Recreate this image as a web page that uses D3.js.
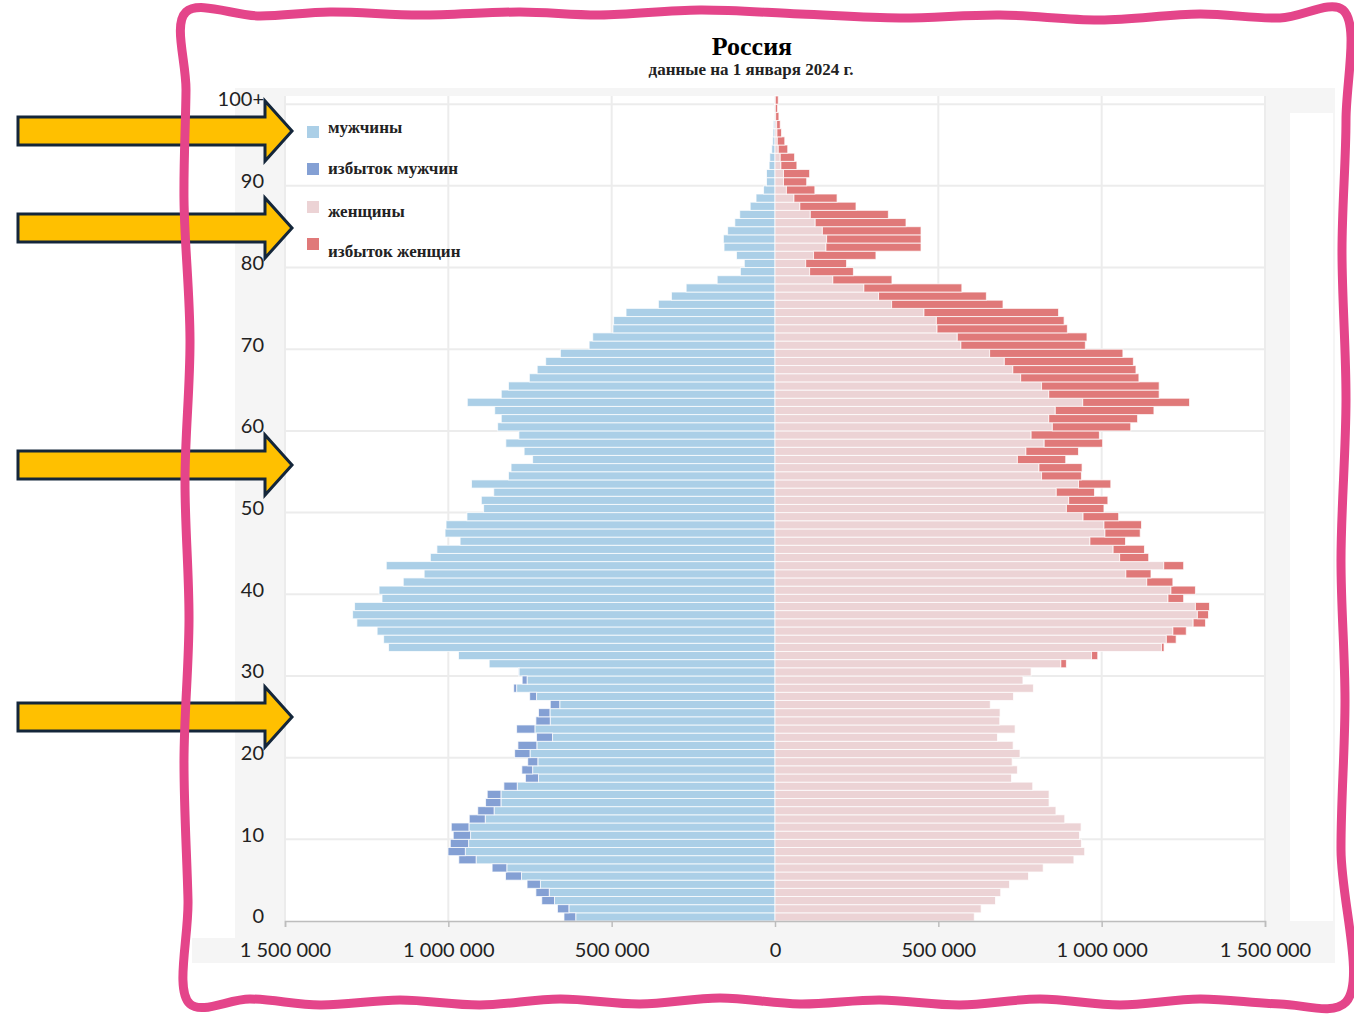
<!DOCTYPE html>
<html><head><meta charset="utf-8">
<script src="https://cdn.jsdelivr.net/npm/d3@7"></script>
<style>html,body{margin:0;padding:0;background:#fff;}svg{display:block;}</style>
</head><body>
<svg id="chart" width="1354" height="1019"></svg>
<script>
// ---- data (thousands of persons), ages 0..100+ ----
const ages = d3.range(0, 101);
const males = [646,666,714,732,759,825,866,968,1001,994,
  985,991,936,910,886,881,830,764,775,757,
  797,787,730,791,732,724,688,751,800,774,
  785,875,969,1183,1198,1218,1280,1293,1287,1203,
  1212,1138,1074,1190,1055,1035,964,1010,1007,943,
  892,899,861,929,816,808,742,768,824,784,
  849,838,858,942,838,816,752,728,702,657,
  569,558,496,494,456,357,317,272,177,106,
  94,118,156,158,145,123,108,76,58,35,
  26,26,18,16,10,7,6,5,2,1,1];
const females = [610,631,675,691,718,776,821,915,948,938,
  932,937,887,860,839,839,789,724,742,726,
  750,729,681,735,688,689,659,730,791,759,
  784,892,988,1191,1228,1259,1318,1327,1330,1251,
  1287,1218,1151,1251,1144,1131,1073,1118,1122,1052,
  1007,1019,978,1028,938,940,890,929,1003,993,
  1089,1110,1160,1269,1176,1176,1114,1105,1097,1065,
  950,955,895,885,868,698,647,572,358,240,
  219,309,447,447,447,401,347,248,190,122,
  97,106,67,60,39,30,20,16,12,8,10];
const xTicks = [-1500000,-1000000,-500000,0,500000,1000000,1500000];
const ageTicks = [0,10,20,30,40,50,60,70,80,90,100];
const ageTickLabels = ["0","10","20","30","40","50","60","70","80","90","100+"];
const legendLabels = ["мужчины","избыток мужчин","женщины","избыток женщин"];
const title = "Россия";
const subtitle = "данные на 1 января 2024 г.";
const arrowCenters = [131, 228, 465, 717];

const colors = {male:"#abcfe7", maleEx:"#84a0d4", female:"#ecd3d5", femaleEx:"#e07979"};

const svg = d3.select("#chart");

// panels
svg.append("rect").attr("x",235).attr("y",88).attr("width",1100).attr("height",875).attr("fill","#f5f5f5");
svg.append("rect").attr("x",192).attr("y",938).attr("width",43).attr("height",25).attr("fill","#f5f5f5");
svg.append("rect").attr("x",285).attr("y",96).attr("width",980).attr("height",825).attr("fill","#fff");
svg.append("rect").attr("x",1290).attr("y",113).attr("width",43).attr("height",808).attr("fill","#fff");

const x = d3.scaleLinear().domain([-1500000,1500000]).range([285,1265]);
const y = d3.scaleBand().domain(ages.slice().reverse()).range([96,921]).padding(0);

// gridlines
const g = svg.append("g");
g.selectAll("line.v").data(xTicks).join("line")
  .attr("x1",d=>x(d)).attr("x2",d=>x(d)).attr("y1",96).attr("y2",921)
  .attr("stroke","#ececec").attr("stroke-width",2);
g.selectAll("line.h").data(ageTicks.filter(a=>a>0)).join("line")
  .attr("x1",285).attr("x2",1265)
  .attr("y1",d=>y(d)+y.bandwidth()).attr("y2",d=>y(d)+y.bandwidth())
  .attr("stroke","#ececec").attr("stroke-width",2);

// bars
const rows = ages.map((a,i)=>({age:a, m:males[i]*1000, f:females[i]*1000}));
const bars = svg.append("g").attr("stroke","#fff").attr("stroke-opacity",0.75).attr("stroke-width",1);
bars.selectAll("rect.mb").data(rows).join("rect")
  .attr("x",d=>x(-Math.min(d.m,d.f))).attr("width",d=>x(0)-x(-Math.min(d.m,d.f)))
  .attr("y",d=>y(d.age)).attr("height",y.bandwidth()).attr("fill",colors.male);
bars.selectAll("rect.me").data(rows.filter(d=>d.m>d.f)).join("rect")
  .attr("x",d=>x(-d.m)).attr("width",d=>x(-d.f)-x(-d.m))
  .attr("y",d=>y(d.age)).attr("height",y.bandwidth()).attr("fill",colors.maleEx);
bars.selectAll("rect.fb").data(rows).join("rect")
  .attr("x",x(0)).attr("width",d=>x(Math.min(d.m,d.f))-x(0))
  .attr("y",d=>y(d.age)).attr("height",y.bandwidth()).attr("fill",colors.female);
bars.selectAll("rect.fe").data(rows.filter(d=>d.f>d.m)).join("rect")
  .attr("x",d=>x(d.m)).attr("width",d=>x(d.f)-x(d.m))
  .attr("y",d=>y(d.age)).attr("height",y.bandwidth()).attr("fill",colors.femaleEx);

// x axis
const loc = d3.formatLocale({decimal:",", thousands:"\u00a0", grouping:[3], currency:["",""]});
const fmt = loc.format(",d");
const xAxis = svg.append("g").attr("transform","translate(0,921)")
  .call(d3.axisBottom(x).tickValues(xTicks).tickSize(6).tickPadding(16).tickFormat(d=>fmt(Math.abs(d))));
xAxis.select(".domain").attr("stroke","#bdbdbd").attr("stroke-width",1.5);
xAxis.selectAll(".tick line").attr("stroke","#bdbdbd").attr("stroke-width",1.5);
xAxis.selectAll(".tick text").attr("font-family","Lato, sans-serif").attr("font-size",20).attr("fill","#222");

// y labels
const yAxis = svg.append("g").attr("transform","translate(285,0)")
  .call(d3.axisLeft(y).tickValues(ageTicks).tickSize(0).tickPadding(21)
    .tickFormat(d=>ageTickLabels[ageTicks.indexOf(d)]));
yAxis.select(".domain").remove();
yAxis.selectAll(".tick text").attr("font-family","Lato, sans-serif").attr("font-size",20).attr("fill","#222");

// titles
svg.append("text").attr("x",752).attr("y",55).attr("text-anchor","middle")
  .attr("font-family","'Liberation Serif', serif").attr("font-weight","bold").attr("font-size",26).text(title);
svg.append("text").attr("x",751).attr("y",75).attr("text-anchor","middle")
  .attr("font-family","'Liberation Serif', serif").attr("font-weight","bold").attr("font-size",17).attr("fill","#222").text(subtitle);

// legend
const legColors = [colors.male, colors.maleEx, colors.female, colors.femaleEx];
const legSq = [126,163,201,238];
const legTx = [133,174,217,257];
const leg = svg.append("g");
legendLabels.forEach((t,i)=>{
  leg.append("rect").attr("x",307).attr("y",legSq[i]).attr("width",12).attr("height",12).attr("fill",legColors[i]);
  leg.append("text").attr("x",328).attr("y",legTx[i]).attr("font-family","'Liberation Serif', serif")
    .attr("font-weight","bold").attr("font-size",17).attr("fill","#222").text(t);
});

// arrows
arrowCenters.forEach(c=>{
  const p = [[18,c-14],[265,c-14],[265,c-30],[292,c],[265,c+30],[265,c+14],[18,c+14]];
  svg.append("path").attr("d","M"+p.map(q=>q.join(",")).join("L")+"Z")
    .attr("fill","#ffc000").attr("stroke","#14263a").attr("stroke-width",3).attr("stroke-linejoin","miter");
});

// wavy frame
const framePts = [
  [186,12],[260,16],[330,12],[420,15],[520,12],[600,15],[700,10],[800,14],[900,18],[1000,15],[1100,20],[1200,14],[1280,18],[1343,10],
  [1346,120],[1342,250],[1346,400],[1341,560],[1345,700],[1341,850],[1346,1002],
  [1280,1004],[1200,999],[1120,1005],[1040,999],[960,1005],[880,1000],[800,1004],[720,998],[640,1004],[560,999],[480,1005],[400,1000],[320,1005],[250,999],[190,1004],
  [188,900],[184,760],[189,620],[185,480],[190,340],[184,200],[186,90]
];
svg.append("path").attr("d", d3.line().curve(d3.curveCatmullRomClosed.alpha(0.5))(framePts))
  .attr("fill","none").attr("stroke","#e4458a").attr("stroke-width",9).attr("stroke-linejoin","round");
</script>
</body></html>
